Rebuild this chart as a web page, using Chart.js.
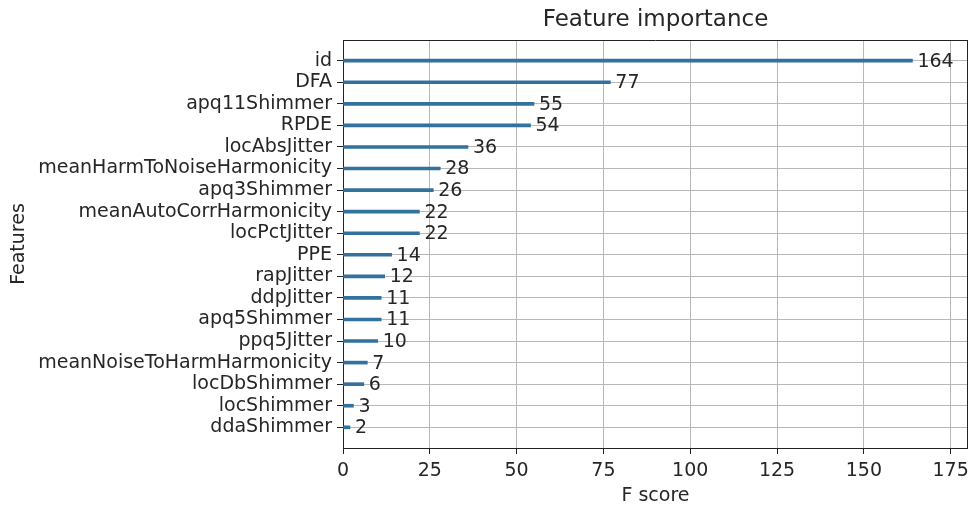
<!DOCTYPE html>
<html><head><meta charset="utf-8">
<script src="https://cdn.jsdelivr.net/npm/chart.js@4.4.1/dist/chart.umd.min.js"></script>
<style>html,body{margin:0;padding:0;background:#fff;overflow:hidden}</style>
</head><body>
<canvas id="c" width="968" height="506"></canvas>
<script>
const categories = ["id","DFA","apq11Shimmer","RPDE","locAbsJitter","meanHarmToNoiseHarmonicity","apq3Shimmer","meanAutoCorrHarmonicity","locPctJitter","PPE","rapJitter","ddpJitter","apq5Shimmer","ppq5Jitter","meanNoiseToHarmHarmonicity","locDbShimmer","locShimmer","ddaShimmer"];
const fScores = [164,77,55,54,36,28,26,22,22,14,12,11,11,10,7,6,3,2];
const xTickValues = [0,25,50,75,100,125,150,175];
const chartTitle = "Feature importance";
const xTitle = "F score";
const yTitle = "Features";

const FONT = '"DejaVu Sans", sans-serif';
const TXT = '#262626';

const valueLabels = {
  id: 'valueLabels',
  afterDatasetsDraw(chart) {
    const {ctx, scales: {x, y}} = chart;
    ctx.save();
    ctx.font = '19px ' + FONT;
    ctx.fillStyle = TXT;
    ctx.textBaseline = 'middle';
    ctx.textAlign = 'left';
    fScores.forEach((v, i) => {
      ctx.fillText(String(v), x.getPixelForValue(v) + 5, y.getPixelForValue(i) + 1);
    });
    ctx.restore();
  }
};
const frame = {
  id: 'frame',
  afterDraw(chart) {
    const {ctx, chartArea: a} = chart;
    ctx.save();
    ctx.strokeStyle = '#222';
    ctx.lineWidth = 1;
    ctx.beginPath();
    ctx.moveTo(a.left, a.top + 0.5);
    ctx.lineTo(a.right, a.top + 0.5);
    ctx.moveTo(a.right - 0.5, a.top);
    ctx.lineTo(a.right - 0.5, a.bottom);
    ctx.stroke();
    ctx.font = '23px ' + FONT;
    ctx.fillStyle = TXT;
    ctx.textAlign = 'center';
    ctx.textBaseline = 'middle';
    ctx.fillText(chartTitle, (a.left + a.right) / 2, 20);
    ctx.restore();
  }
};

new Chart(document.getElementById('c'), {
  type: 'bar',
  data: {
    datasets: [{
      data: fScores.map((v, i) => ({x: v, y: i})),
      backgroundColor: '#33719e',
      borderWidth: 0,
      barThickness: 3
    }]
  },
  plugins: [valueLabels, frame],
  options: {
    indexAxis: 'y',
    responsive: false,
    animation: false,
    layout: {padding: {top: 40, left: 0, right: 0, bottom: 0}},
    plugins: {legend: {display: false}, tooltip: {enabled: false}, title: {display: false}},
    scales: {
      x: {
        type: 'linear', min: 0, max: 180,
        afterBuildTicks: s => { s.ticks = xTickValues.map(v => ({value: v})); },
        afterFit: s => { s.height = 58; s.paddingLeft = 0; s.paddingRight = 0; },
        ticks: {font: {family: FONT, size: 19}, color: TXT, padding: 6, maxRotation: 0, autoSkip: false},
        grid: {color: '#b8b8b8', lineWidth: 1, tickLength: 6, tickColor: '#222', drawTicks: true},
        border: {color: '#222', width: 1},
        title: {display: true, text: xTitle, font: {family: FONT, size: 19}, color: TXT, padding: {top: 0, bottom: -1}}
      },
      y: {
        type: 'linear', min: -0.96, max: 17.96, reverse: true, offset: false,
        afterBuildTicks: s => { s.ticks = categories.map((c, i) => ({value: i})); },
        afterFit: s => { s.width = 343; s.paddingTop = 0; s.paddingBottom = 0; },
        ticks: {font: {family: FONT, size: 19}, color: TXT, padding: 5, autoSkip: false,
          callback: v => categories[v]},
        grid: {offset: false, color: '#b8b8b8', lineWidth: 1, tickLength: 6, tickColor: '#222', drawTicks: true},
        border: {color: '#222', width: 1},
        title: {display: true, text: yTitle, font: {family: FONT, size: 19}, color: TXT, padding: {top: 8, bottom: 0}}
      }
    }
  }
});
</script>
</body></html>
